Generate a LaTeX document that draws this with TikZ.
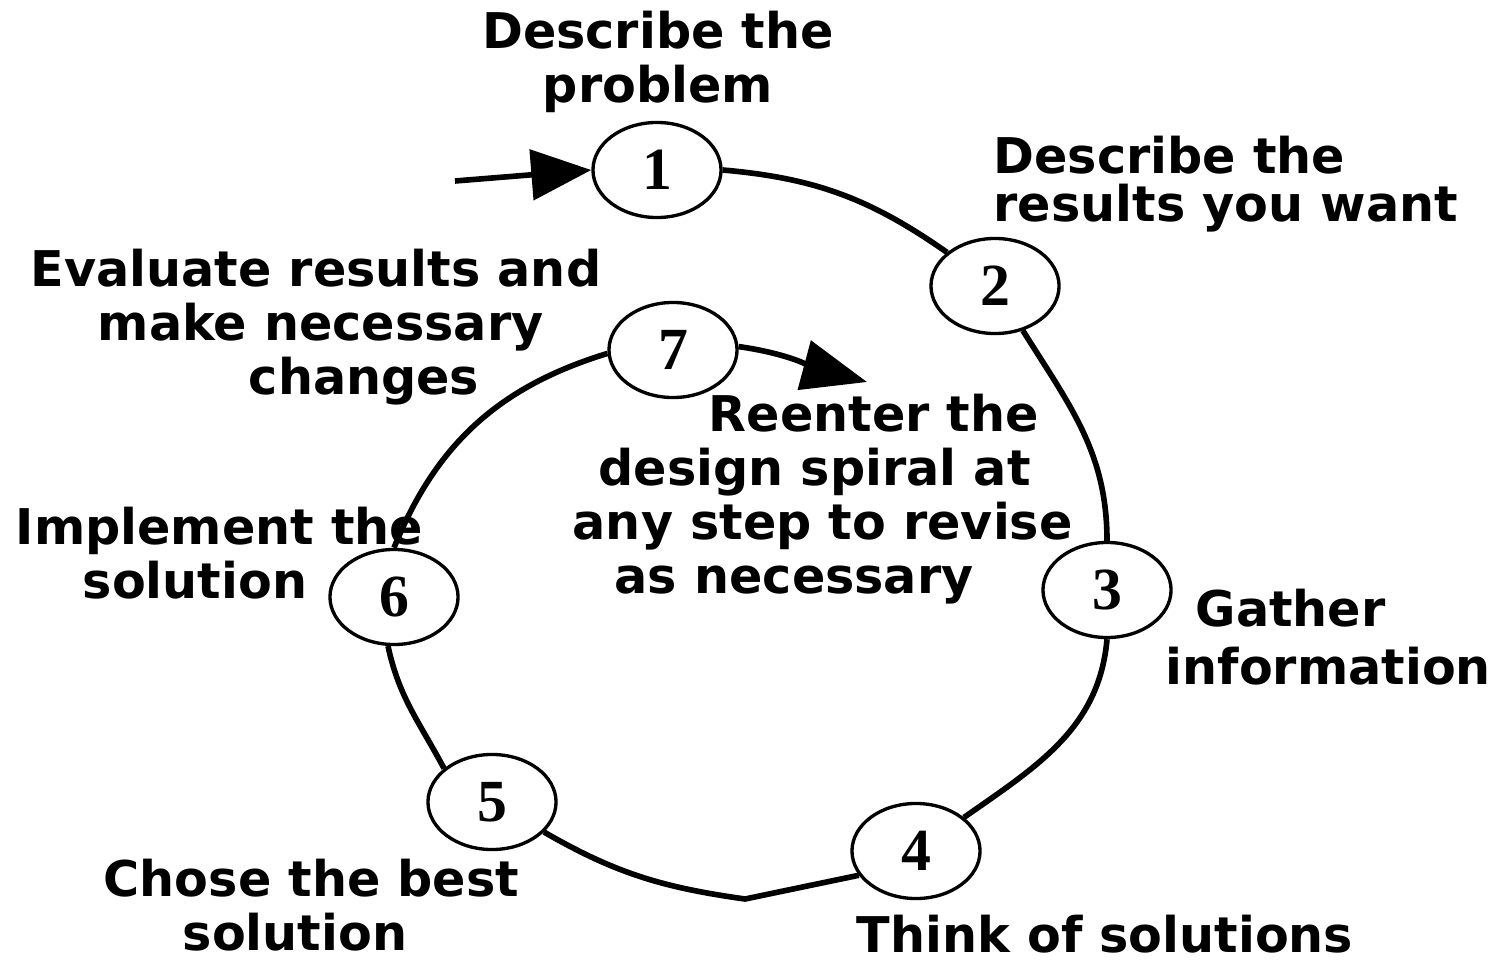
\documentclass[tikz,border=0pt]{standalone}
\usepackage{fontspec}
\setmainfont{DejaVu Sans}
\newfontfamily\digitfont{Liberation Serif}
\usetikzlibrary{shapes.geometric, arrows.meta}

\begin{document}
\begin{tikzpicture}[x=0.01cm, y=0.01cm,
  stage/.style={ellipse, draw, line width=0.95pt,
    minimum width=1.28cm, minimum height=0.95cm, inner sep=0pt,
    font=\digitfont\fontsize{17}{20}\selectfont\bfseries},
  track/.style={line width=1.6pt},
  lbl/.style={font=\fontsize{14}{15.4}\selectfont\bfseries,
    inner sep=0pt, align=#1},
  lbl/.default=center,
]
\useasboundingbox (0,0) rectangle (1495,-961);
\node[stage] (s1) at (657,-170) {1};
\node[stage] (s2) at (995,-286) {2};
\node[stage] (s3) at (1107,-590) {3};
\node[stage] (s4) at (916,-851) {4};
\node[stage] (s5) at (492,-802) {5};
\node[stage] (s6) at (394,-597) {6};
\node[stage] (s7) at (673,-350) {7};
\coordinate (entry) at (455,-181);
\coordinate (dip) at (745,-899);
\coordinate (reenter) at (867,-382);
\draw[track, -{Triangle[length=0.6cm, width=0.5cm]}] (entry) -- (s1.west);
\draw[track] (s1.east) to[out=-5, in=145] (s2);
\draw[track] (s2) to[out=-58, in=90] (s3.north);
\draw[track] (s3.south) to[out=-95, in=35] (s4);
\draw[track] (s4.203) -- (dip) to[out=172, in=-30] (s5);
\draw[track] (s5.145) to[out=118, in=-78] (s6.-97);
\draw[track] (s6.north) to[out=68, in=197] (s7.183);
\draw[track, -{Triangle[length=0.65cm, width=0.5cm]}] (s7.3) to[out=-8, in=165] (reenter);
\node[lbl, anchor=north] (t1) at (658,-10) {Describe the\\problem};
\node[lbl=left, anchor=north west, font=\fontsize{14}{13.7}\selectfont\bfseries]
  (t2) at (993,-135) {Describe the\\results you want};
\node[lbl=left, anchor=north west] (t7) at (30,-248)
  {Evaluate results and\\\hspace*{0.67cm}make necessary\\\hspace*{2.18cm}changes};
\node[lbl=left, anchor=north west] (tr) at (572,-393)
  {\hspace*{1.36cm}Reenter the\\\hspace*{0.26cm}design spiral at\\any step to revise\\\hspace*{0.42cm}as necessary};
\node[lbl=left, anchor=north west] (t6) at (15,-506)
  {Implement the\\\hspace*{0.67cm}solution};
\node[lbl=left, anchor=north west, font=\fontsize{14}{16.5}\selectfont\bfseries]
  (t3) at (1165,-588) {\hspace*{0.30cm}Gather\\information};
\node[lbl=left, anchor=north west] (t5) at (103,-858)
  {Chose the best\\\hspace*{0.79cm}solution};
\node[lbl, anchor=north] (t4) at (1105,-914) {Think of solutions};
\end{tikzpicture}
\end{document}
